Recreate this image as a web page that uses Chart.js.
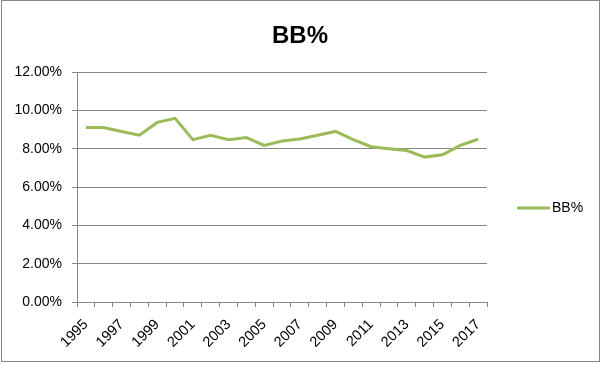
<!DOCTYPE html>
<html>
<head>
<meta charset="utf-8">
<script src="https://cdn.jsdelivr.net/npm/chart.js@4.4.1/dist/chart.umd.min.js"></script>
<style>
  html, body { margin: 0; padding: 0; background: #fff; }
  #wrap { width: 602px; height: 365px; }
</style>
</head>
<body>
<div id="wrap"><canvas id="bbChart" width="602" height="365"></canvas></div>
<script>
// years on the category axis
const years = [
  "1995", "1996", "1997", "1998", "1999", "2000", "2001", "2002", "2003", "2004", "2005", "2006",
  "2007", "2008", "2009", "2010", "2011", "2012", "2013", "2014", "2015", "2016", "2017",
];
// walk rate, percent
const bbPct = [
  9.1, 9.1, 8.9, 8.7, 9.37, 9.58, 8.47, 8.7, 8.47, 8.58, 8.17, 8.4,
  8.5, 8.7, 8.9, 8.47, 8.1, 8.0, 7.9, 7.56, 7.68, 8.17, 8.49,
];
const yTicks = [0, 2, 4, 6, 8, 10, 12];
const chartTitle = "BB%";

const lineColor = "#9bbb59";
const gridColor = "#868686";
const fontFamily = "'Liberation Sans', Arial, sans-serif";

// frame, title and legend drawn by hand, like the Excel chart
const framePlugin = {
  id: "frame",
  afterDraw(chart) {
    const ctx = chart.ctx;
    ctx.save();
    ctx.strokeStyle = gridColor;
    ctx.lineWidth = 1;
    ctx.strokeRect(1.5, 0.5, 598, 361);

    // title, centred on the whole chart
    ctx.fillStyle = "#000";
    ctx.font = "bold 24px " + fontFamily;
    ctx.textAlign = "center";
    ctx.textBaseline = "middle";
    ctx.fillText(chartTitle, 300, 36);

    // legend
    const ly = 208;
    ctx.strokeStyle = lineColor;
    ctx.lineWidth = 3;
    ctx.beginPath();
    ctx.moveTo(517, ly);
    ctx.lineTo(550, ly);
    ctx.stroke();
    ctx.font = "14px " + fontFamily;
    ctx.textAlign = "left";
    ctx.fillText(chart.data.datasets[0].label, 552, ly);
    ctx.restore();
  },
};

new Chart(document.getElementById("bbChart"), {
  type: "line",
  data: {
    labels: years,
    datasets: [
      {
        label: "BB%",
        data: bbPct,
        borderColor: lineColor,
        backgroundColor: lineColor,
        borderWidth: 3,
        pointRadius: 0,
        tension: 0,
      },
    ],
  },
  options: {
    responsive: false,
    animation: false,
    layout: { padding: { top: 72, left: 0, right: 115, bottom: 0 } },
    plugins: {
      legend: { display: false },
      tooltip: { enabled: false },
      title: { display: false },
    },
    scales: {
      x: {
        offset: true,
        afterFit: (scale) => { scale.height = 63; },
        border: { color: gridColor },
        grid: {
          offset: true,
          drawOnChartArea: false,
          color: gridColor,
          tickLength: 5,
        },
        ticks: {
          autoSkip: false,
          minRotation: 45,
          maxRotation: 45,
          padding: 9,
          color: "#000",
          font: { family: fontFamily, size: 14.5 },
          callback: function (value, index) {
            return index % 2 === 0 ? this.getLabelForValue(value) : "";
          },
        },
      },
      y: {
        min: 0,
        max: 12,
        afterFit: (scale) => { scale.width = 77; },
        afterBuildTicks: (scale) => { scale.ticks = yTicks.map((v) => ({ value: v })); },
        border: { color: gridColor },
        grid: { color: gridColor, tickLength: 5 },
        ticks: {
          padding: 10,
          color: "#000",
          font: { family: fontFamily, size: 14 },
          callback: (v) => v.toFixed(2) + "%",
        },
      },
    },
  },
  plugins: [framePlugin],
});
</script>
</body>
</html>
